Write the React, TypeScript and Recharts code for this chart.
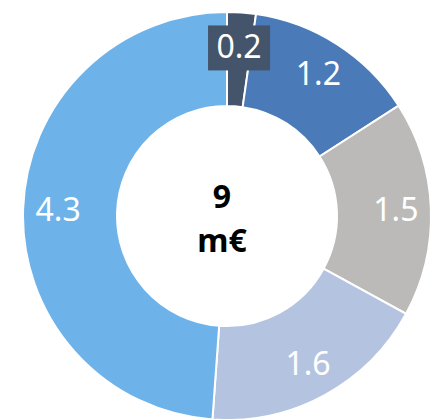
import { Cell, Pie, PieChart } from "recharts"

const categories = ["A", "B", "C", "D", "E"]
const values = [0.2, 1.2, 1.5, 1.6, 4.3]
const totalLabel = ["9", "m€"]

const COLORS = [
    "#44546a", // dark slate
    "#4a7ab8", // blue
    "#bbbab8", // gray
    "#b4c4e0", // light blue-gray
    "#6eb2ea", // light blue
]

const FONT = "'Noto Sans', 'DejaVu Sans', sans-serif"
const RADIAN = Math.PI / 180
const CX = 222
const CY = 211

const data = categories.map((name, i) => ({ name, value: values[i] }))

function renderLabel(props: any) {
    const { cx, cy, midAngle, value, index } = props
    const r = 169
    const x = cx + r * Math.cos(-midAngle * RADIAN)
    const y = cy + r * Math.sin(-midAngle * RADIAN)
    const text = value.toFixed(1)
    return (
        <g key={`lbl-${index}`}>
            {index === 0 && (
                <rect x={x - 31} y={y - 22} width={62} height={45} fill={COLORS[0]} />
            )}
            <text
                x={x}
                y={y + 11}
                fill="#ffffff"
                textAnchor="middle"
                fontFamily={FONT}
                fontSize={32}
            >
                {text}
            </text>
        </g>
    )
}

export default function App() {
    return (
        <div style={{ position: "absolute", left: 0, top: 0, width: 436, height: 419, background: "#fff" }}>
            <PieChart width={436} height={419}>
                <Pie
                    data={data}
                    dataKey="value"
                    cx={CX}
                    cy={CY}
                    innerRadius={110}
                    outerRadius={204}
                    startAngle={90}
                    endAngle={-270}
                    stroke="#ffffff"
                    strokeWidth={2}
                    label={renderLabel}
                    labelLine={false}
                    isAnimationActive={false}
                >
                    {data.map((entry, index) => (
                        <Cell key={`cell-${index}`} fill={COLORS[index % COLORS.length]} />
                    ))}
                </Pie>
            </PieChart>
            {/* total in the hole */}
            <svg width={436} height={419} style={{ position: "absolute", left: 0, top: 0, pointerEvents: "none" }}>
                <text x={CX} y={CY - 3} textAnchor="middle" fontFamily={FONT} fontSize={32}
                    fontWeight="bold" fill="#000">
                    {totalLabel[0]}
                </text>
                <text x={CX} y={CY + 41} textAnchor="middle" fontFamily={FONT} fontSize={32}
                    fontWeight="bold" fill="#000">
                    {totalLabel[1]}
                </text>
            </svg>
        </div>
    )
}
